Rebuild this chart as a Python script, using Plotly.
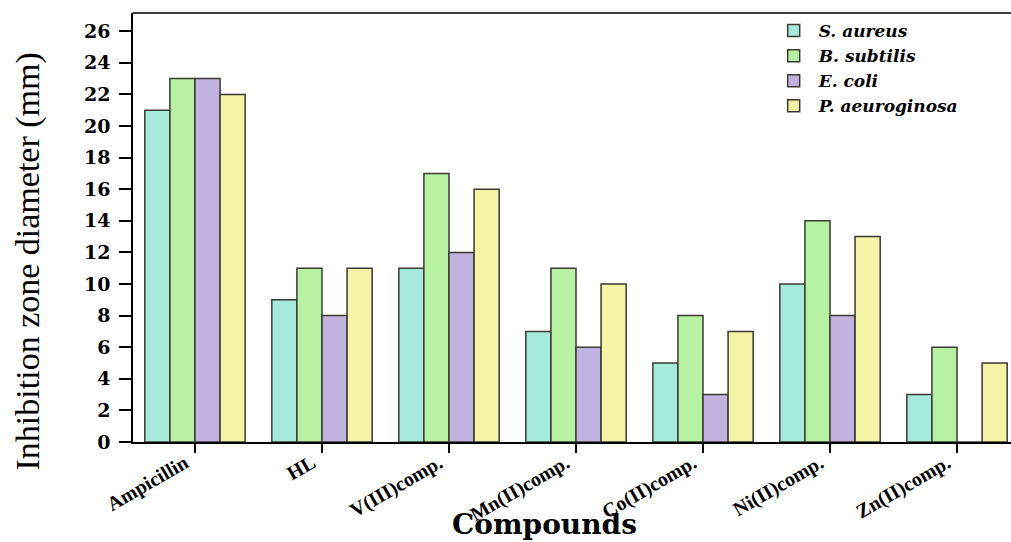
import plotly.graph_objects as go

compounds = ["Ampicillin", "HL", "V(III)comp.", "Mn(II)comp.", "Co(II)comp.", "Ni(II)comp.", "Zn(II)comp."]
s_aureus = [21, 9, 11, 7, 5, 10, 3]
b_subtilis = [23, 11, 17, 11, 8, 14, 6]
e_coli = [23, 8, 12, 6, 3, 8, 0]
p_aeruginosa = [22, 11, 16, 10, 7, 13, 5]

series_names = ["S. aureus", "B. subtilis", "E. coli", "P. aeuroginosa"]
series_values = [s_aureus, b_subtilis, e_coli, p_aeruginosa]
colors = ["#a6eadb", "#b6f2a2", "#c1b2e0", "#f4f3a6"]

y_ticks = list(range(0, 27, 2))

fig = go.Figure()
for name, vals, col in zip(series_names, series_values, colors):
    fig.add_trace(go.Bar(
        x=list(range(len(compounds))), y=vals, name=name,
        marker=dict(color=col, line=dict(color="#3b3b33", width=1.5)),
    ))

serif = "Liberation Serif, Times New Roman, serif"
wide = "DejaVu Serif, serif"

fig.update_layout(
    width=1011, height=542,
    margin=dict(l=133, r=0, t=13, b=100),
    paper_bgcolor="white", plot_bgcolor="white",
    barmode="group", bargap=0.21, bargroupgap=0,
    font=dict(family=serif, color="black"),
    showlegend=True,
    legend=dict(
        x=0.724, y=1.0, xanchor="left", yanchor="top",
        bgcolor="rgba(0,0,0,0)", borderwidth=0,
        font=dict(family=wide, size=17, style="italic", weight="bold", color="black"),
        tracegroupgap=0, itemwidth=40,
    ),
    xaxis=dict(
        automargin=False,
        range=[-0.488, 6.425],
        tickmode="array", tickvals=list(range(len(compounds))), ticktext=compounds,
        tickangle=-30, ticklabelshift=-10, ticklabelstandoff=-9,
        tickfont=dict(family=serif, size=20, weight="bold", color="black"),
        ticks="outside", ticklen=9, tickwidth=1.5, tickcolor="black",
        showline=True, linecolor="black", linewidth=1.5,
        showgrid=False, zeroline=False,
    ),
    yaxis=dict(
        automargin=False,
        range=[0, 27.15],
        tickmode="array", tickvals=y_ticks, ticktext=[str(v) for v in y_ticks],
        tickfont=dict(family=wide, size=19, weight="bold", color="black"),
        ticks="outside", ticklen=12, tickwidth=1.5, tickcolor="black",
        ticklabelstandoff=5,
        showline=True, linecolor="black", linewidth=1.5,
        showgrid=False, zeroline=False,
    ),
    annotations=[
        dict(text="Compounds", xref="paper", yref="paper",
             x=0.469, y=-0.193, xanchor="center", yanchor="middle", showarrow=False,
             font=dict(family=wide, size=28, weight="bold", color="black")),
        dict(text="Inhibition zone diameter (mm)", xref="paper", yref="paper",
             x=-0.12, y=0.42, xanchor="center", yanchor="middle", showarrow=False,
             textangle=-90,
             font=dict(family=serif, size=34, color="black")),
    ],
    shapes=[dict(type="line", xref="paper", yref="paper", x0=0, x1=1, y0=1, y1=1,
                 line=dict(color="black", width=1.5))],
)

fig.write_html(
    "out.html",
    config={"displayModeBar": False},
    post_script="document.documentElement.style.overflow='hidden';"
                "document.body.style.margin='0px';document.body.style.overflow='hidden';",
)
